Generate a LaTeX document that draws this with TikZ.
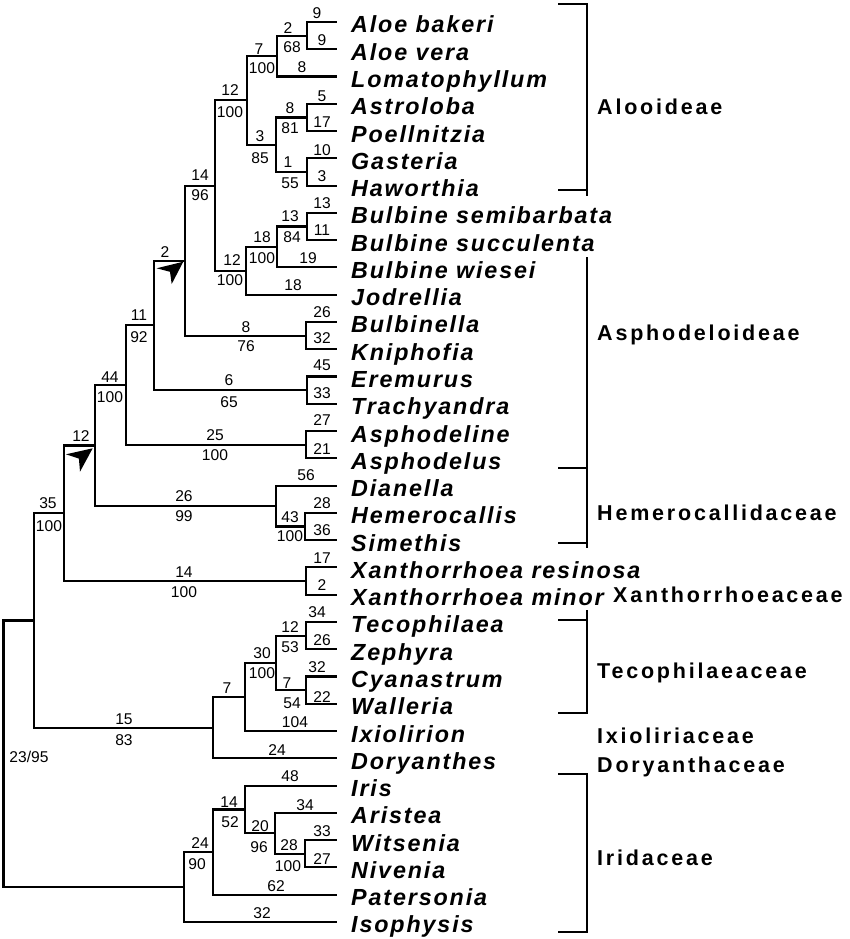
\documentclass[tikz,border=0pt]{standalone}
\usepackage{fontspec}
\setmainfont{Liberation Sans}
\newfontfamily\taxfont[LetterSpace=8]{Liberation Sans}
\newfontfamily\famfont[LetterSpace=13]{Liberation Sans}
\begin{document}
\begin{tikzpicture}[x=1pt,y=-1pt,
  branch/.style={line width=2.1pt},
  bracket/.style={line width=2.1pt},
  taxon/.style={anchor=base west, inner sep=0pt, font=\taxfont\bfseries\itshape\fontsize{23.3}{26}\selectfont},
  num/.style={inner sep=0pt, font=\fontsize{15.6}{17}\selectfont},
  fam/.style={anchor=base west, inner sep=0pt, font=\famfont\bfseries\fontsize{21.5}{24}\selectfont}]
\useasboundingbox (0,0) rectangle (850,939);

% leaves and taxon names
\foreach \n [count=\k from 0] in {Aloe bakeri, Aloe vera, Lomatophyllum, Astroloba, Poellnitzia, Gasteria, Haworthia, Bulbine semibarbata, Bulbine succulenta, Bulbine wiesei, Jodrellia, Bulbinella, Kniphofia, Eremurus, Trachyandra, Asphodeline, Asphodelus, Dianella, Hemerocallis, Simethis, Xanthorrhoea resinosa, Xanthorrhoea minor, Tecophilaea, Zephyra, Cyanastrum, Walleria, Ixiolirion, Doryanthes, Iris, Aristea, Witsenia, Nivenia, Patersonia, Isophysis}{
  \coordinate (L\k) at (337,{22+27.27*\k});
  \node[taxon] (t\k) at (351,{33+27.27*\k}) {\n};
}

% internal nodes
\coordinate (nAv)   at (307,35.65);
\coordinate (nAl)   at (277,56.1);
\coordinate (nAs)   at (307,117.5);
\coordinate (nGa)   at (307,172);
\coordinate (nAG)   at (276,144.7);
\coordinate (nAloo) at (247,100.4);
\coordinate (nBs)   at (307,226.5);
\coordinate (nBw)   at (277,247);
\coordinate (nBul)  at (246,270.8);
\coordinate (n14)   at (215,185.6);
\coordinate (nBK)   at (306,335.6);
\coordinate (n2)    at (185,260.6);
\coordinate (nET)   at (307,390.1);
\coordinate (n11)   at (154,325.4);
\coordinate (nAA)   at (306,444.7);
\coordinate (n44)   at (126,385);
\coordinate (nHS)   at (305,526.5);
\coordinate (nHem)  at (276,506);
\coordinate (n12)   at (95,445.5);
\coordinate (nX)    at (306,581);
\coordinate (n35)   at (64,513.3);
\coordinate (nTZ)   at (306,635.6);
\coordinate (nCW)   at (306,690.1);
\coordinate (nTec)  at (276,662.9);
\coordinate (n30)   at (245,697);
\coordinate (n7)    at (213,727.6);
\coordinate (n15)   at (34,620.5);
\coordinate (nWN)   at (305,853.8);
\coordinate (n28)   at (275,833.3);
\coordinate (n20)   at (245,809.5);
\coordinate (n14i)  at (213,852);
\coordinate (n24)   at (184,887);
\coordinate (root)  at (3.5,753.7);

% branches
\foreach \p/\c in {nAv/L0, nAv/L1, nAl/nAv, nAl/L2, nAs/L3, nAs/L4, nGa/L5, nGa/L6, nAG/nAs, nAG/nGa,
  nAloo/nAl, nAloo/nAG, nBs/L7, nBs/L8, nBw/nBs, nBw/L9, nBul/nBw, nBul/L10, n14/nAloo, n14/nBul,
  nBK/L11, nBK/L12, n2/n14, n2/nBK, nET/L13, nET/L14, n11/n2, n11/nET, nAA/L15, nAA/L16,
  n44/n11, n44/nAA, nHS/L18, nHS/L19, nHem/L17, nHem/nHS, n12/n44, n12/nHem, nX/L20, nX/L21,
  n35/n12, n35/nX, nTZ/L22, nTZ/L23, nCW/L24, nCW/L25, nTec/nTZ, nTec/nCW, n30/nTec, n30/L26,
  n7/n30, n7/L27, n15/n35, n15/n7, nWN/L30, nWN/L31, n28/L29, n28/nWN, n20/L28, n20/n28,
  n14i/n20, n14i/L32, n24/n14i, n24/L33, root/n15, root/n24}
  \draw[branch] (\p) |- (\c);

% branch labels
\foreach \x/\y/\t [count=\k] in {
  317/13/9, 322/40/9, 302/67/8, 322/96/5, 322/122/17, 322/150/10, 322/176/3,
  322/203/13, 322/230/11, 308/258/19, 293/285/18, 322/312/26, 322/338/32,
  322/365/45, 322/393/33, 322/420/27, 322/449/21, 306/475/56, 322/503/28, 322/530/36,
  322/558/17, 322/585/2, 317/612/34, 322/640/26, 317/667/32, 322/697/22,
  295/722/104, 277/750/24, 290/776/48, 305/805/34, 322/831/33, 322/859/27, 276/886/62, 262/913/32,
  288/28/2, 292/47/68, 259/49/7, 262/68/100, 290/108/8, 290/128/81, 288/162/1, 290/183/55,
  260/136/3, 260/158/85, 230/90/12, 230/112/100, 290/216/13, 292/237/84, 262/237/18, 262/258/100,
  232/260/12, 230/280/100, 200/175/14, 200/195/96, 246/327/8, 246/346/76, 165/252/2,
  229/380/6, 229/402/65, 139/315/11, 139/337/92, 215/435/25, 215/455/100, 110/377/44, 110/397/100,
  290/517/43, 290/536/100, 184/496/26, 184/516/99, 81/436/12, 184/572/14, 184/592/100,
  48/503/35, 49/526/100, 290/627/12, 290/647/53, 287/683/7, 292/703/54, 262/653/30, 262/673/100,
  227/688/7, 124/719/15, 124/740/83, 289/845/28, 288/866/100, 260/826/20, 259/847/96,
  229/802/14, 230/822/52, 200/843/24, 197/864/90}
  \node[num] (b\k) at (\x,\y) {\t};
\node[num] (broot) at (29,757) {23/95};

% arrowheads
\fill (183.3,261.7) -- (156.7,268.3) -- (170,271.8) -- (171.7,284) -- cycle;
\fill (92.7,448.3) -- (66,454.3) -- (78.9,458.6) -- (80,471.7) -- cycle;

% brackets
\draw[bracket] (558,4) -| (587,196);
\draw[bracket] (558,190) -- (587,190);
\draw[bracket] (587,257) -- (587,548);
\draw[bracket] (558,468) -- (587,468);
\draw[bracket] (558,543) -- (587,543);
\draw[bracket] (558,620) -- (587,620);
\draw[bracket] (587,610) -- (587,714);
\draw[bracket] (558,713) -- (587,713);
\draw[bracket] (558,774) -| (587,933);
\draw[bracket] (558,932) -- (587,932);

% family labels
\node[fam] (f1) at (597,115) {Alooideae};
\node[fam] (f2) at (597,340) {Asphodeloideae};
\node[fam] (f3) at (597,520) {Hemerocallidaceae};
\node[fam] (f4) at (613,602) {Xanthorrhoeaceae};
\node[fam] (f5) at (597,678) {Tecophilaeaceae};
\node[fam] (f6) at (597,743) {Ixioliriaceae};
\node[fam] (f7) at (597,772) {Doryanthaceae};
\node[fam] (f8) at (597,865) {Iridaceae};
\end{tikzpicture}
\end{document}
